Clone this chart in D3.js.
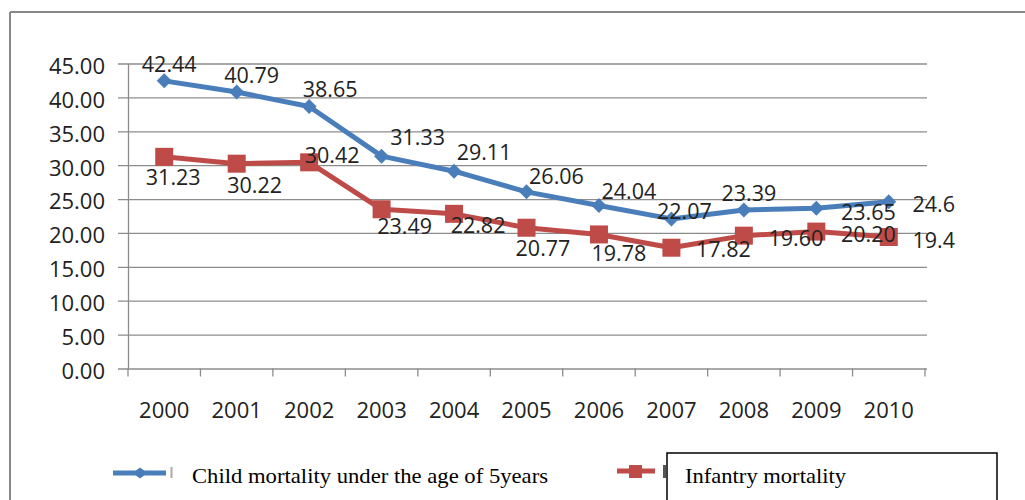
<!DOCTYPE html>
<html>
<head>
<meta charset="utf-8">
<script src="https://cdn.jsdelivr.net/npm/d3@7"></script>
<style>
  body { margin: 0; background: #fff; }
  svg { display: block; }
</style>
</head>
<body>
<div id="chart"></div>
<script>
const years = ["2000", "2001", "2002", "2003", "2004", "2005", "2006", "2007", "2008", "2009", "2010"];
const childValues = [42.44, 40.79, 38.65, 31.33, 29.11, 26.06, 24.04, 22.07, 23.39, 23.65, 24.6];
const infantValues = [31.23, 30.22, 30.42, 23.49, 22.82, 20.77, 19.78, 17.82, 19.6, 20.2, 19.4];
const childLabels = ["42.44", "40.79", "38.65", "31.33", "29.11", "26.06", "24.04", "22.07", "23.39", "23.65", "24.6"];
const infantLabels = ["31.23", "30.22", "30.42", "23.49", "22.82", "20.77", "19.78", "17.82", "19.60", "20.20", "19.4"];
const yTicks = [0, 5, 10, 15, 20, 25, 30, 35, 40, 45];
const seriesNames = ["Child mortality under the age of 5years", "Infantry mortality"];

// label nudges (dx to text centre, dy to baseline) as placed in the original
const childNudge = [[5, -9], [15, -9.5], [21, -10], [36, -11], [30, -11], [30, -8], [30, -6.6], [13, 0], [5, -9], [52, 12], [45, 10]];
const infantNudge = [[9, 28], [18, 29], [23, 1], [23, 25], [24, 19.5], [16.5, 28], [20, 26.6], [52, 9.6], [52, 10], [52, 10], [45, 11]];

const width = 1025, height = 500;
const blue = "#4a7ebb", red = "#be4b48", grid = "#8c8c8c", ink = "#222";
const font = "'Open Sans', sans-serif";
const serif = "'Liberation Serif', 'Times New Roman', serif";

const svg = d3.select("#chart").append("svg")
  .attr("width", width).attr("height", height);

// outer frame (top and left edges only)
svg.append("line").attr("x1", 10).attr("x2", width).attr("y1", 12).attr("y2", 12)
  .attr("stroke", "#888").attr("stroke-width", 2);
svg.append("line").attr("x1", 10).attr("x2", 10).attr("y1", 12).attr("y2", height)
  .attr("stroke", "#888").attr("stroke-width", 2);

const x = d3.scaleBand().domain(years).range([128, 925]).padding(0);
const y = d3.scaleLinear().domain([0, 45]).range([368.5, 63.5]);
const cx = d => x(d) + x.bandwidth() / 2;

// y axis with gridlines
const yAxis = svg.append("g")
  .attr("transform", "translate(128,0)")
  .call(d3.axisLeft(y).tickValues(yTicks).tickFormat(d3.format(".2f"))
    .tickSizeInner(-(927 - 128)).tickSizeOuter(0).tickPadding(23));
yAxis.select(".domain").attr("stroke", grid).attr("stroke-width", 1.3);
yAxis.selectAll(".tick line").attr("x1", -10).attr("stroke", grid).attr("stroke-width", 1.3);
yAxis.selectAll(".tick text").attr("dy", "0.45em")
  .style("font-family", font).style("font-size", "22px").attr("fill", ink);

// x axis labels
const xAxis = svg.append("g")
  .attr("transform", `translate(0,${y(0)})`)
  .call(d3.axisBottom(x).tickSize(0).tickPadding(34));
xAxis.select(".domain").remove();
xAxis.selectAll(".tick text")
  .style("font-family", font).style("font-size", "22px").attr("fill", ink);

// x tick marks at category boundaries
const bounds = years.map(d => x(d)).concat([x.range()[1]]);
svg.append("g").selectAll("line").data(bounds).enter().append("line")
  .attr("x1", d => d).attr("x2", d => d)
  .attr("y1", y(0)).attr("y2", y(0) + 8)
  .attr("stroke", grid).attr("stroke-width", 1.3);

const line = d3.line().x((d, i) => cx(years[i])).y(d => y(d));

// child mortality series
svg.append("path").datum(childValues)
  .attr("d", line).attr("fill", "none")
  .attr("stroke", blue).attr("stroke-width", 5).attr("stroke-linejoin", "round");

// infant mortality series
svg.append("path").datum(infantValues)
  .attr("d", line).attr("fill", "none")
  .attr("stroke", red).attr("stroke-width", 5).attr("stroke-linejoin", "round");

const diamond = (w, h) => `M0,${-h / 2}L${w / 2},0L0,${h / 2}L${-w / 2},0Z`;

svg.append("g").selectAll("path").data(childValues).enter().append("path")
  .attr("d", diamond(15, 15))
  .attr("transform", (d, i) => `translate(${cx(years[i])},${y(d)})`)
  .attr("fill", blue);

svg.append("g").selectAll("rect").data(infantValues).enter().append("rect")
  .attr("x", (d, i) => cx(years[i]) - 9)
  .attr("y", d => y(d) - 9)
  .attr("width", 18).attr("height", 18)
  .attr("fill", red);

// data labels
function labels(values, texts, nudge) {
  svg.append("g").selectAll("text").data(values).enter().append("text")
    .attr("x", (d, i) => cx(years[i]) + nudge[i][0])
    .attr("y", (d, i) => y(d) + nudge[i][1])
    .attr("text-anchor", "middle")
    .style("font-family", font).style("font-size", "21.5px")
    .attr("fill", ink)
    .text((d, i) => texts[i]);
}
labels(childValues, childLabels, childNudge);
labels(infantValues, infantLabels, infantNudge);

// legend
const lg = svg.append("g");
lg.append("line").attr("x1", 113).attr("x2", 166).attr("y1", 473).attr("y2", 473)
  .attr("stroke", blue).attr("stroke-width", 5);
lg.append("path").attr("d", diamond(15, 11)).attr("transform", "translate(140,473)").attr("fill", blue);
lg.append("rect").attr("x", 170.5).attr("y", 467).attr("width", 2).attr("height", 11).attr("fill", "#aaa");
lg.append("text").attr("x", 192).attr("y", 483)
  .attr("textLength", 356).attr("lengthAdjust", "spacingAndGlyphs")
  .style("font-family", serif).style("font-size", "21px")
  .attr("fill", "#000").text(seriesNames[0]);

lg.append("line").attr("x1", 617).attr("x2", 655).attr("y1", 471).attr("y2", 471)
  .attr("stroke", red).attr("stroke-width", 5);
lg.append("rect").attr("x", 629).attr("y", 465).attr("width", 13).attr("height", 13).attr("fill", red);
lg.append("rect").attr("x", 663).attr("y", 465).attr("width", 3).attr("height", 13).attr("fill", "#555");
lg.append("rect").attr("x", 667).attr("y", 453).attr("width", 330).attr("height", 60)
  .attr("fill", "#fff").attr("stroke", "#000").attr("stroke-width", 1.5);
lg.append("text").attr("x", 685).attr("y", 483)
  .attr("textLength", 161).attr("lengthAdjust", "spacingAndGlyphs")
  .style("font-family", serif).style("font-size", "21px")
  .attr("fill", "#000").text(seriesNames[1]);
</script>
</body>
</html>
